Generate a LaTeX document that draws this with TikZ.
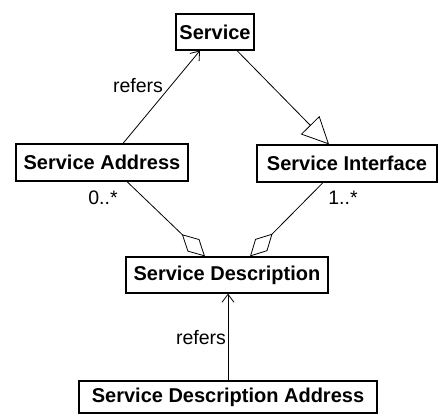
\documentclass[tikz,border=0pt]{standalone}
\usepackage{fontspec}
\setmainfont{Liberation Sans}
\usetikzlibrary{arrows.meta}
\tikzset{
  cls/.style={draw=black, line width=1.2pt, fill=white, inner sep=0pt, font=\fontsize{20}{21}\selectfont\bfseries},
  lbl/.style={inner sep=0pt, font=\fontsize{19.5}{20}\selectfont},
  conn/.style={line width=0.8pt},
  refarrow/.style={conn, -{Straight Barb[length=8pt,width=12pt,line width=0.8pt]}},
  genarrow/.style={conn, -{Triangle[open,length=27pt,width=26pt,line width=0.8pt]}},
  aggarrow/.style={conn, -{Diamond[open,length=32pt,width=17pt,line width=0.8pt]}}
}
\begin{document}
\begin{tikzpicture}[x=1pt,y=-1pt]
\useasboundingbox (0,0) rectangle (438,415);
\node[cls, minimum width=78pt, minimum height=36pt] (svc) at (215,32) {Service};
\node[cls, minimum width=172pt, minimum height=37pt] (sa) at (102,162.5) {Service Address};
\node[cls, minimum width=180pt, minimum height=37pt] (si) at (347,163.5) {Service Interface};
\node[cls, minimum width=202pt, minimum height=36pt] (sd) at (227,275) {Service Description};
\node[cls, minimum width=298pt, minimum height=32pt] (sda) at (228,397) {Service Description Address};

\draw[refarrow] ([xshift=21pt]sa.north) -- ([xshift=-15pt]svc.south);
\draw[genarrow] ([xshift=22pt]svc.south) -- ([xshift=-18pt]si.north);
\draw[aggarrow] ([xshift=25pt]sa.south) -- ([xshift=-22pt]sd.north);
\draw[aggarrow] ([xshift=-24pt]si.south) -- ([xshift=23pt]sd.north);
\draw[refarrow] (sda.north) -- (sda.north |- sd.south);

\node[lbl] (l1) at (138,86) {refers};
\node[lbl] (l2) at (103,198) {0..*};
\node[lbl] (l3) at (343,198) {1..*};
\node[lbl] (l4) at (201,338) {refers};
\end{tikzpicture}
\end{document}
